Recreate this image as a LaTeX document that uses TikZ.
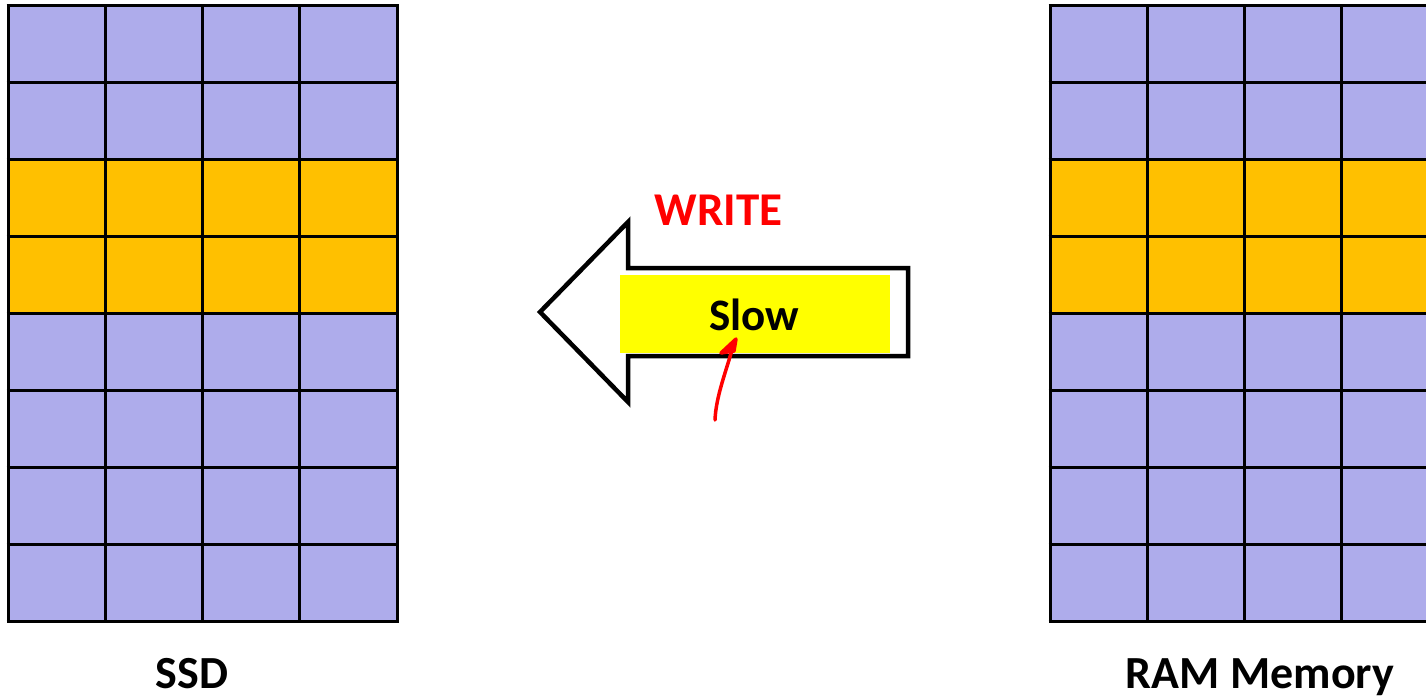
\documentclass[tikz,border=0pt]{standalone}
\usepackage{fontspec}
\setmainfont{Carlito}
\usetikzlibrary{calc}
\definecolor{cellblue}{RGB}{174,172,235}
\definecolor{cellorange}{RGB}{255,192,0}
\definecolor{hlyellow}{RGB}{255,255,0}
\definecolor{penred}{RGB}{255,0,0}
\tikzset{
  gridline/.style={line width=3pt, black},
  caption/.style={font=\fontsize{46}{52}\selectfont\bfseries, anchor=base, inner sep=0pt},
  bigarrow/.style={line width=4.5pt, black, fill=white, line join=miter},
  hlbox/.style={fill=hlyellow, draw=none, inner sep=0pt, minimum width=270pt, minimum height=78pt},
  penstroke/.style={line width=3.5pt, penred, line cap=round, line join=round}
}
\begin{document}
\begin{tikzpicture}[x=1pt,y=-1pt]
\useasboundingbox (0,0) rectangle (1426,698);
\clip (0,0) rectangle (1426,698);

% memory blocks: 4 columns x 8 rows, rows 3-4 highlighted
\foreach \gx in {8,1050}{
  \foreach \r in {0,...,7}{
    \pgfmathsetmacro{\ya}{6+76.9*\r}
    \pgfmathsetmacro{\yb}{6+76.9*(\r+1)}
    \ifnum\r=2 \def\cc{cellorange}\else\ifnum\r=3 \def\cc{cellorange}\else\def\cc{cellblue}\fi\fi
    \fill[\cc] (\gx,\ya) rectangle (\gx+389,\yb);
  }
  \foreach \c in {0,...,4}{
    \draw[gridline] (\gx+97.25*\c,6) -- (\gx+97.25*\c,621.2);
  }
  \foreach \r in {0,...,8}{
    \draw[gridline] (\gx-1.5,6+76.9*\r) -- (\gx+390.5,6+76.9*\r);
  }
}

% captions
\node[caption] (ssd) at (192,688) {SSD};
\node[caption] (ram) at (1260,688) {RAM Memory};

% write direction arrow
\draw[bigarrow] (908,268) -- (628,268) -- (628,222) -- (540,312)
  -- (628,402) -- (628,356) -- (908,356) -- cycle;
\node[hlbox] (slowbox) at (755,314) {};
\node[font=\fontsize{45}{50}\selectfont\bfseries, anchor=base, inner sep=0pt] (slow) at (754,330) {Slow};
\node[font=\fontsize{47}{52}\selectfont\bfseries, text=penred, anchor=base, inner sep=0pt] (write) at (718.5,225) {WRITE};

% hand-drawn pointer under the label
\coordinate (penstart) at (715,420);
\coordinate (pentip) at ($(slow.base)+(-20,13)$);
\draw[penstroke] (penstart) .. controls (716,396) and (726,372) .. (pentip);
\draw[penstroke, fill=penred] (721,353) -- (736,339) -- (734,351) -- cycle;
\end{tikzpicture}
\end{document}
